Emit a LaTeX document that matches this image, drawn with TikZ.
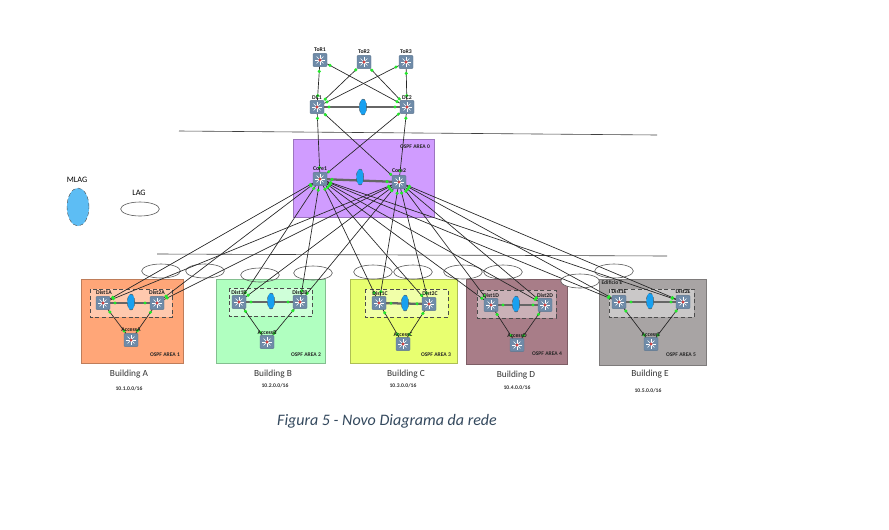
\documentclass[tikz,border=0pt]{standalone}
\usepackage{fontspec}
\setmainfont{Carlito}
\usetikzlibrary{calc,shapes.geometric}
\definecolor{swfill}{HTML}{6F8BA8}
\definecolor{dotgreen}{HTML}{22E82A}
\definecolor{mlagblue}{HTML}{18A0F0}
\definecolor{capblue}{HTML}{34495E}
\definecolor{coreF}{HTML}{D09CFF}
\definecolor{aF}{HTML}{FFA678}
\definecolor{bF}{HTML}{B0FFC0}
\definecolor{cF}{HTML}{E8FF70}
\definecolor{dF}{HTML}{A87D88}
\definecolor{eF}{HTML}{A8A4A4}
\tikzset{
 area/.style={draw=#1!75!black,fill=#1,line width=.6pt},
 innerarea/.style={draw=black!70,densely dashed,line width=.35pt,fill=white,fill opacity=.4},
 lagring/.style={draw=black!65,line width=.45pt,ellipse,minimum width=29pt,minimum height=10.5pt,inner sep=0pt},
 mlag/.style={draw=black!70,densely dashed,line width=.3pt,fill=mlagblue,ellipse,minimum width=5.5pt,minimum height=12pt,inner sep=0pt},
 switchbox/.style={draw=swfill!85!black,line width=.3pt,fill=swfill,rounded corners=.8pt,minimum width=10.5pt,minimum height=10pt,inner sep=0pt},
 tinylabel/.style={font=\bfseries\fontsize{4.3}{5}\selectfont,inner sep=0pt,text=black!90},
 arealabel/.style={font=\bfseries\fontsize{4.2}{5}\selectfont,inner sep=0pt,text=black!85},
 buildlabel/.style={font=\fontsize{7}{9}\selectfont,inner sep=0pt,text=black!80},
 netlabel/.style={font=\bfseries\fontsize{4.2}{5}\selectfont,inner sep=0pt,text=black!80},
 uplink/.style={draw=black!85,line width=.5pt},
 trunk/.style={draw=black!60,line width=1.7pt},
}
\newcommand{\sw}[3]{%
 \node[switchbox] (#1) at (#2,#3) {};
 \foreach \a in {0,45,...,315}{\draw[white,line width=.5pt] (#1.center) -- ++(\a:3.6pt);}
 \fill[red!60!gray!90!white] (#1.center) circle (1.3pt);
}
\newcommand{\lnk}[2]{%
 \draw[uplink] (#1) -- (#2);
 \fill[dotgreen] ($(#1.center)!8.5pt!(#2.center)$) circle (1.3pt);
 \fill[dotgreen] ($(#2.center)!8.5pt!(#1.center)$) circle (1.3pt);
}
\newcommand{\tk}[2]{%
 \draw[trunk] (#1) -- (#2);
 \fill[dotgreen] ($(#1.center)!9pt!(#2.center)$) circle (1.3pt);
 \fill[dotgreen] ($(#2.center)!9pt!(#1.center)$) circle (1.3pt);
}
\begin{document}
\begin{tikzpicture}[x=.75pt,y=-.75pt]
\useasboundingbox (0,0) rectangle (889,529);
\fill[white] (0,0) rectangle (889,529);
% separators
\coordinate (s1a) at (179,131); \coordinate (s1b) at (657,135);
\coordinate (s2a) at (157,254); \coordinate (s2b) at (667,256);
\draw[black!75,line width=.45pt] (s1a) -- (s1b);
\draw[black!75,line width=.45pt] (s2a) -- (s2b);
% areas
\draw[area=coreF] (293,139) rectangle (434,217);
\draw[area=aF] (81,279) rectangle (183,363);
\draw[area=bF] (216,279) rectangle (325,363);
\draw[area=cF] (350,279) rectangle (457,363);
\draw[area=dF] (466,279) rectangle (567,364);
\draw[area=eF] (599,279) rectangle (706,365);
\draw[innerarea] (90,289) rectangle (172,317);
\draw[innerarea] (229,288) rectangle (312,316);
\draw[innerarea] (365,289) rectangle (448,317);
\draw[innerarea] (477,290) rectangle (556,318);
\draw[innerarea] (609,289) rectangle (694,317);
% LAG rings
\node[lagring] (l1) at (161,271) {};
\node[lagring] (l2) at (205,271) {};
\node[lagring] (l3) at (260,275) {};
\node[lagring] (l4) at (313,273) {};
\node[lagring] (l5) at (373,272) {};
\node[lagring] (l6) at (413,272) {};
\node[lagring] (l7) at (463,272) {};
\node[lagring] (l8) at (503,272) {};
\node[lagring,fill=white] (l9) at (580,281) {};
\node[lagring] (l10) at (614,271) {};
% switches
\sw{tor1}{320}{60}\sw{tor2}{364}{62}\sw{tor3}{406}{62}
\sw{dc1}{317}{107}\sw{dc2}{407}{107}
\sw{core1}{320}{179}\sw{core2}{399}{182}
\sw{d1a}{103}{303}\sw{d2a}{157}{303}\sw{aa}{131}{340}
\sw{d1b}{239}{302}\sw{d2b}{300}{302}\sw{ab}{267}{342}
\sw{d1c}{379}{303}\sw{d2c}{429}{304}\sw{ac}{403}{344}
\sw{d1d}{491}{305}\sw{d2d}{545}{305}\sw{ad}{517}{345}
\sw{d1e}{619}{302}\sw{d2e}{683}{302}\sw{ae}{651}{344}
% top links
\lnk{tor1}{dc1}\lnk{tor1}{dc2}\lnk{tor2}{dc1}\lnk{tor2}{dc2}\lnk{tor3}{dc1}\lnk{tor3}{dc2}
\lnk{dc1}{core1}\lnk{dc1}{core2}\lnk{dc2}{core1}\lnk{dc2}{core2}
\tk{dc1}{dc2}\tk{core1}{core2}
% uplinks
\foreach \d in {d1a,d2a,d1b,d2b,d1c,d2c,d1d,d2d,d1e,d2e}{\lnk{core1}{\d}\lnk{core2}{\d}}
% building internals
\tk{d1a}{d2a}\tk{d1b}{d2b}\tk{d1c}{d2c}\tk{d1d}{d2d}\tk{d1e}{d2e}
\lnk{d1a}{aa}\lnk{d2a}{aa}\lnk{d1b}{ab}\lnk{d2b}{ab}\lnk{d1c}{ac}\lnk{d2c}{ac}\lnk{d1d}{ad}\lnk{d2d}{ad}\lnk{d1e}{ae}\lnk{d2e}{ae}
% MLAG ovals
\node[mlag] (m1) at (363,107) {};
\node[mlag] (m2) at (360,177) {};
\node[mlag] (m3) at (131,302) {};
\node[mlag] (m4) at (271,301) {};
\node[mlag] (m5) at (405,303) {};
\node[mlag] (m6) at (516,304) {};
\node[mlag] (m7) at (650,301) {};
% legend
\node[mlag,minimum width=16.5pt,minimum height=28.5pt,fill=mlagblue!70!white] (mleg) at (78,207) {};
\node[lagring] (lleg) at (140,209) {};
\node[font=\fontsize{6.2}{7}\selectfont,inner sep=0pt] (mt) at (77,180) {MLAG};
\node[font=\fontsize{6.2}{7}\selectfont,inner sep=0pt] (lt) at (139,193) {LAG};
% switch labels
\node[tinylabel] (t1) at (320,50) {ToR1};
\node[tinylabel] (t2) at (364,52) {ToR2};
\node[tinylabel] (t3) at (406,52) {ToR3};
\node[tinylabel] (t4) at (317,98) {DC1};
\node[tinylabel] (t5) at (407,98) {DC2};
\node[tinylabel] (t6) at (320,169) {Core1};
\node[tinylabel] (t7) at (399,171) {Core2};
\node[tinylabel] (t8) at (104,293) {Dist1A};
\node[tinylabel] (t9) at (157,293) {Dist2A};
\node[tinylabel] (t10) at (131,330) {AccessA};
\node[tinylabel] (t11) at (239,293) {Dist1B};
\node[tinylabel] (t12) at (300,293) {Dist2B};
\node[tinylabel] (t13) at (267,333) {AccessB};
\node[tinylabel] (t14) at (380,294) {Dist1C};
\node[tinylabel] (t15) at (430,294) {Dist2C};
\node[tinylabel] (t16) at (403,335) {AccessC};
\node[tinylabel] (t17) at (491,296) {Dist1D};
\node[tinylabel] (t18) at (545,296) {Dist2D};
\node[tinylabel] (t19) at (517,336) {AccessD};
\node[tinylabel] (t20) at (619,292) {Dist1E};
\node[tinylabel] (t21) at (683,292) {Dist2E};
\node[tinylabel] (t22) at (651,335) {AccessE};
% texts
\node[arealabel] (o0) at (415,147) {OSPF AREA 0};
\node[arealabel] (o1) at (165,355) {OSPF AREA 1};
\node[arealabel] (o2) at (306,355) {OSPF AREA 2};
\node[arealabel] (o3) at (436,355) {OSPF AREA 3};
\node[arealabel] (o4) at (547,354) {OSPF AREA 4};
\node[arealabel] (o5) at (681,355) {OSPF AREA 5};
\node[arealabel] (edif) at (612,283) {Edificio E};
\node[buildlabel] (ba) at (129,374) {Building A};
\node[buildlabel] (bb) at (273,374) {Building B};
\node[buildlabel] (bc) at (406,374) {Building C};
\node[buildlabel] (bd) at (516,375) {Building D};
\node[buildlabel] (be) at (650,374) {Building E};
\node[netlabel] (na) at (129,389) {10.1.0.0/16};
\node[netlabel] (nb) at (275,386) {10.2.0.0/16};
\node[netlabel] (nc) at (403,386) {10.3.0.0/16};
\node[netlabel] (nd) at (517,388) {10.4.0.0/16};
\node[netlabel] (ne) at (648,391) {10.5.0.0/16};
\node[font=\itshape\fontsize{12}{14}\selectfont,text=capblue,inner sep=0pt] (cap) at (387,421) {Figura 5 - Novo Diagrama da rede};
\end{tikzpicture}
\end{document}
